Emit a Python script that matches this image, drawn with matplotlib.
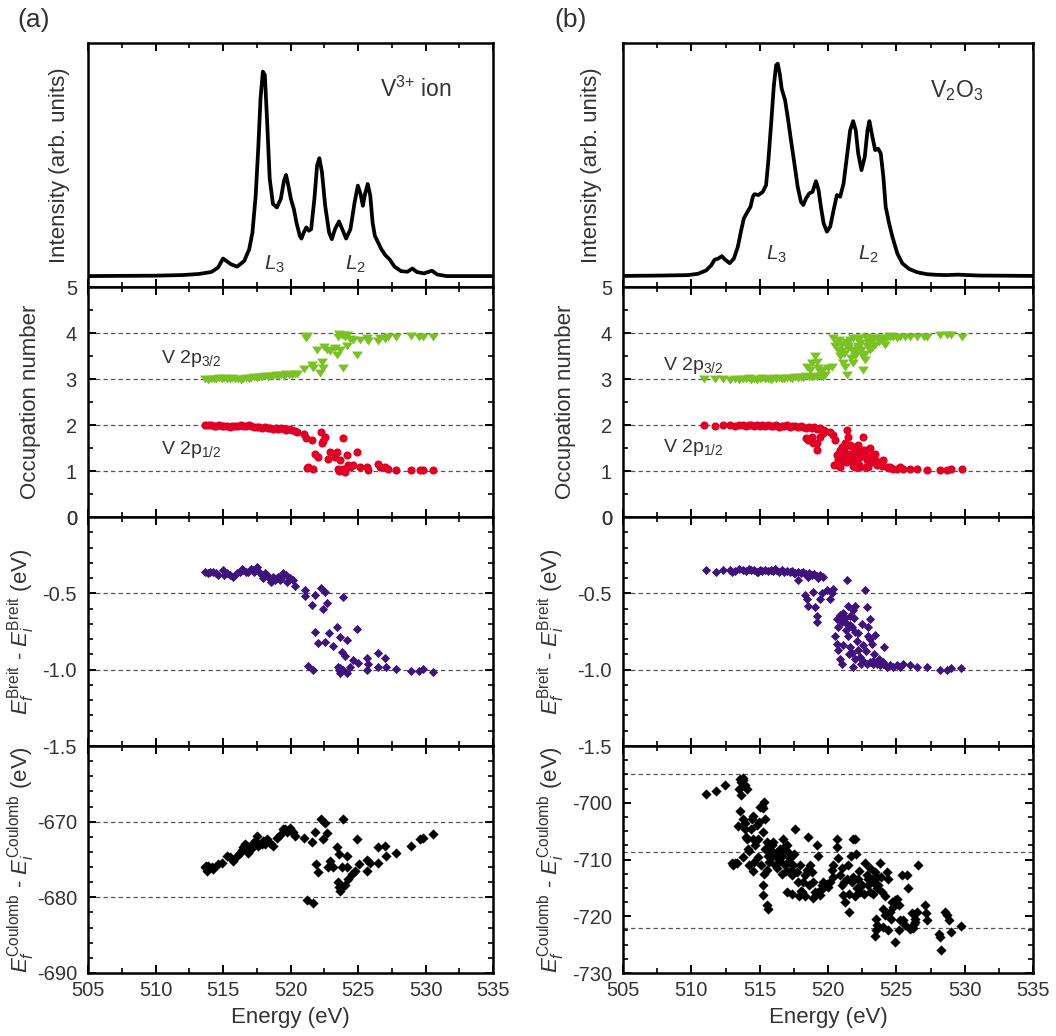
import matplotlib
matplotlib.use('Agg')
import matplotlib.pyplot as plt
from matplotlib.ticker import MultipleLocator, FixedLocator, NullLocator

plt.rcParams['font.family'] = ['Liberation Sans', 'DejaVu Sans']
plt.rcParams['mathtext.fontset'] = 'custom'
plt.rcParams['mathtext.rm'] = 'Liberation Sans'
plt.rcParams['mathtext.it'] = 'Liberation Sans:italic'
plt.rcParams['mathtext.bf'] = 'Liberation Sans:bold'

# ---------------- data: spectra ----------------
spec_a_E = [505.0, 510.0, 512.0, 513.19, 514.15, 514.64, 515.0, 515.6, 516.04, 516.57, 516.94,
            517.18, 517.42, 517.61, 517.78, 517.95, 518.1, 518.27, 518.46, 518.7, 518.99,
            519.28, 519.52, 519.67, 519.84, 520.03, 520.25, 520.44, 520.69, 520.81, 520.98,
            521.17, 521.36, 521.53, 521.77, 521.97, 522.14, 522.33, 522.57, 522.86, 523.06,
            523.3, 523.59, 523.83, 524.12, 524.44, 524.75, 524.99, 525.19, 525.36, 525.52,
            525.72, 525.91, 526.08, 526.25, 526.49, 526.73, 527.03, 527.34, 527.7, 528.19,
            528.67, 529.03, 529.35, 529.88, 530.49, 530.85, 531.57, 535.0]
spec_a_I = [0.0, 0.002, 0.005, 0.01, 0.02, 0.042, 0.085, 0.057, 0.046, 0.073, 0.13,
            0.211, 0.39, 0.618, 0.862, 0.992, 0.976, 0.748, 0.472, 0.35, 0.333,
            0.374, 0.463, 0.491, 0.439, 0.374, 0.325, 0.26, 0.195, 0.182, 0.211,
            0.236, 0.22, 0.228, 0.374, 0.537, 0.572, 0.504, 0.341, 0.211, 0.179,
            0.228, 0.265, 0.228, 0.182, 0.228, 0.358, 0.439, 0.398, 0.341, 0.398,
            0.447, 0.39, 0.26, 0.195, 0.163, 0.13, 0.101, 0.081, 0.046, 0.024,
            0.021, 0.037, 0.02, 0.013, 0.026, 0.008, 0.0, 0.0]

spec_b_E = [505.0, 508.0, 509.76, 510.49, 511.09, 511.46, 511.7, 511.95, 512.24, 512.48, 512.8,
            513.11, 513.4, 513.65, 513.84, 514.08, 514.33, 514.5, 514.62, 514.91, 515.23,
            515.47, 515.64, 515.84, 516.03, 516.2, 516.32, 516.47, 516.61, 516.86, 517.05,
            517.29, 517.54, 517.78, 518.02, 518.19, 518.39, 518.63, 518.87, 519.12, 519.31,
            519.48, 519.68, 519.92, 520.16, 520.41, 520.65, 520.89, 521.14, 521.38, 521.62,
            521.84, 522.03, 522.21, 522.45, 522.69, 522.89, 523.03, 523.25, 523.45, 523.66,
            523.86, 524.05, 524.22, 524.47, 524.71, 525.07, 525.44, 525.93, 526.53, 527.26,
            527.99, 528.72, 529.5, 531.0, 535.0]
spec_b_I = [0.0, 0.002, 0.004, 0.01, 0.026, 0.05, 0.076, 0.081, 0.093, 0.076, 0.06,
            0.081, 0.136, 0.215, 0.27, 0.298, 0.325, 0.372, 0.384, 0.38, 0.395,
            0.427, 0.544, 0.716, 0.888, 0.989, 0.997, 0.95, 0.88, 0.825, 0.747,
            0.638, 0.528, 0.419, 0.348, 0.333, 0.364, 0.388, 0.395, 0.445, 0.403,
            0.325, 0.247, 0.208, 0.231, 0.309, 0.38, 0.372, 0.434, 0.559, 0.684,
            0.727, 0.684, 0.575, 0.497, 0.559, 0.684, 0.727, 0.653, 0.591, 0.598,
            0.575, 0.466, 0.325, 0.247, 0.184, 0.106, 0.059, 0.033, 0.017, 0.008,
            0.005, 0.004, 0.006, 0.002, 0.0]

# ---------------- data: panel (a) scatter ----------------
occ32_a_E = [513.7, 513.9, 514.1, 514.3, 514.5, 514.7, 514.9, 515.1, 515.3, 515.5, 515.7, 515.9,
             516.1, 516.3, 516.5, 516.7, 516.9, 517.1, 517.3, 517.5, 517.7, 517.9, 518.1, 518.3,
             518.5, 518.7, 518.9, 519.1, 519.3, 519.5, 519.7, 519.9, 520.1, 520.3, 520.5,
             521.0, 521.14, 521.56, 521.69, 521.93, 522.18, 522.3, 522.43, 522.67, 522.92, 523.29,
             523.46, 523.66, 523.86, 523.54, 523.78, 524.03, 524.15, 524.15, 524.4, 524.64, 524.94,
             525.14, 525.63, 525.75, 526.49, 526.62, 526.99, 527.23, 527.85, 528.96, 529.53,
             529.82, 530.56, 523.6, 523.9, 521.2, 522.5]
occ32_a_N = [3.0, 2.98, 3.01, 3.0, 2.99, 3.02, 3.01, 3.03, 3.0, 2.99, 3.02, 3.01,
             3.0, 2.98, 3.01, 3.03, 3.0, 3.02, 3.04, 3.03, 3.05, 3.04, 3.06, 3.05,
             3.07, 3.06, 3.08, 3.07, 3.09, 3.06, 3.1, 3.08, 3.09, 3.11, 3.1,
             3.21, 3.89, 3.31, 3.23, 3.63, 3.12, 3.36, 3.23, 3.63, 3.6, 3.67,
             3.52, 3.63, 3.25, 3.92, 3.96, 3.92, 3.71, 3.96, 3.87, 3.85, 3.52,
             3.85, 3.89, 3.82, 3.82, 3.89, 3.87, 3.91, 3.92, 3.94, 3.92,
             3.92, 3.92, 3.97, 3.95, 3.93, 3.70]

occ12_a_E = [513.7, 513.9, 514.1, 514.3, 514.5, 514.7, 514.9, 515.1, 515.3, 515.5, 515.7, 515.9,
             516.1, 516.3, 516.5, 516.7, 516.9, 517.1, 517.3, 517.5, 517.7, 517.9, 518.1, 518.3,
             518.5, 518.7, 518.9, 519.1, 519.3, 519.5, 519.7, 519.9, 520.1, 520.3, 520.5,
             521.0, 521.14, 521.32, 521.64, 521.56, 521.81, 522.06, 522.23, 522.3, 522.55, 522.8,
             522.92, 523.29, 523.41, 523.54, 523.66, 523.78, 523.91, 524.03, 524.15, 524.28, 524.4,
             524.64, 524.94, 525.14, 525.63, 525.75, 526.49, 526.62, 526.99, 527.23, 527.85,
             528.96, 529.57, 529.82, 530.56, 523.6, 523.9, 521.2, 522.4]
occ12_a_N = [2.0, 1.99, 2.0, 1.98, 1.97, 1.99, 1.98, 1.97, 1.98, 1.96, 1.97, 1.98,
             1.97, 1.99, 1.98, 1.98, 1.99, 1.97, 1.96, 1.95, 1.96, 1.94, 1.95, 1.93,
             1.94, 1.92, 1.93, 1.91, 1.94, 1.92, 1.9, 1.91, 1.89, 1.87, 1.85,
             1.8, 1.71, 1.08, 1.05, 1.67, 1.38, 1.31, 1.85, 1.6, 1.74, 1.27,
             1.42, 1.31, 1.42, 1.05, 1.24, 1.02, 1.71, 0.98, 1.34, 1.13, 1.09,
             1.13, 1.42, 1.09, 1.09, 1.03, 1.16, 1.09, 1.09, 1.05, 1.03,
             1.02, 1.02, 1.02, 1.02, 1.0, 1.04, 1.06, 1.66]

breit_a_E = [513.68, 513.92, 514.05, 514.29, 514.45, 514.66, 514.98, 515.08, 515.3, 515.52, 515.77,
             516.0, 516.26, 516.51, 516.7, 516.88, 517.05, 517.25, 517.5, 517.69, 517.87, 517.99,
             518.1, 518.24, 518.4, 518.53, 518.73, 518.85, 518.98, 519.22, 519.35, 519.47, 519.67,
             519.76, 519.96, 520.16, 520.33,
             521.07, 521.07, 521.61, 521.81, 522.23, 522.38, 522.55, 522.67, 521.81, 522.06,
             522.55, 522.87, 523.12, 523.41, 523.66, 523.86, 524.15, 523.78, 524.03, 521.32,
             521.64, 523.54, 523.66, 523.91, 524.15, 524.4, 524.6, 524.94, 525.01, 525.63,
             525.75, 525.7, 526.49, 526.49, 526.99, 527.11, 527.85, 528.96, 529.53, 529.82, 530.56,
             516.4, 517.3, 518.6, 519.1, 523.6, 523.7]
breit_a_V = [-0.357, -0.368, -0.36, -0.357, -0.37, -0.379, -0.346, -0.379, -0.365, -0.379, -0.396,
             -0.37, -0.357, -0.346, -0.36, -0.357, -0.34, -0.346, -0.328, -0.357, -0.379, -0.401,
             -0.37, -0.379, -0.40, -0.423, -0.39, -0.41, -0.401, -0.412, -0.39, -0.368, -0.379,
             -0.423, -0.401, -0.412, -0.455,
             -0.477, -0.517, -0.576, -0.51, -0.462, -0.604, -0.488, -0.561, -0.751, -0.828,
             -0.817, -0.762, -0.845, -0.723, -0.784, -0.525, -0.806, -0.882, -0.911, -0.977,
             -1.003, -0.981, -1.02, -1.003, -1.025, -0.981, -0.937, -0.736, -0.959, -1.003,
             -0.966, -0.926, -0.893, -0.981, -0.926, -0.981, -0.998, -1.009, -1.009, -0.998, -1.014,
             -0.34, -0.36, -0.41, -0.39, -1.0, -0.99]

coul_a_E = [513.68, 513.8, 513.92, 514.17, 514.29, 514.66, 514.91, 515.28, 515.52, 515.77, 516.0,
            516.26, 516.51, 516.76, 516.88, 517.05, 517.25, 517.5, 517.62, 517.87, 517.99, 518.24,
            518.48, 518.68, 518.98, 519.22, 519.47, 519.72, 519.96, 520.16, 520.33,
            521.0, 521.19, 521.64, 521.56, 521.81, 521.88, 522.06, 522.23, 522.38, 522.55, 522.67,
            522.8, 522.92, 523.17, 523.41, 523.61, 523.78, 523.91, 523.54, 523.66, 523.78, 524.03,
            524.15, 524.15, 524.28, 524.52, 524.77, 524.94, 525.09, 525.63, 525.63, 525.88, 526.49,
            526.49, 526.99, 527.11, 527.85, 528.96, 529.57, 529.82, 530.56,
            513.75, 516.4, 516.6, 517.4, 518.1, 519.6, 520.0, 523.6]
coul_a_V = [-676.0, -676.5, -675.8, -676.0, -676.3, -675.6, -675.4, -674.5, -674.7, -675.2, -674.6,
            -674.1, -673.4, -673.2, -674.1, -673.6, -672.8, -671.9, -673.2, -673.0, -672.6, -672.3,
            -672.8, -673.2, -672.1, -671.7, -671.0, -671.3, -670.8, -671.3, -671.9,
            -672.1, -680.3, -680.7, -672.7, -671.3, -675.6, -676.6, -669.7, -672.3, -670.2, -671.5,
            -676.0, -675.2, -676.0, -673.4, -674.3, -676.0, -669.7, -678.0, -679.1, -678.7, -678.4,
            -674.5, -676.0, -677.6, -676.9, -676.5, -672.3, -675.6, -675.0, -676.5, -675.4, -673.4,
            -675.4, -673.2, -674.5, -674.1, -673.2, -672.3, -672.1, -671.6,
            -675.9, -673.8, -673.0, -672.5, -672.9, -671.0, -671.2, -678.6]

# ---------------- data: panel (b) scatter ----------------
occ32_b_E = [510.91, 511.72, 512.33, 512.82, 513.2, 513.5, 513.8, 514.0, 514.2, 514.4, 514.6, 514.8,
             515.0, 515.2, 515.4, 515.6, 515.8, 516.0, 516.2, 516.4, 516.6, 516.8, 517.0, 517.2,
             517.4, 517.6, 517.8, 518.0, 518.2, 518.4, 518.6, 518.8, 519.0, 519.2, 519.4, 519.6, 519.8,
             518.44, 518.68, 518.8, 519.05, 519.17, 519.29, 519.41, 519.66, 520.03, 520.27, 520.39,
             520.51, 520.64, 520.88, 521.0, 521.13, 521.25, 521.37, 521.49, 521.61, 521.74, 521.86,
             521.98, 522.1, 522.22, 522.35, 522.47, 522.59, 522.71, 522.84, 522.96, 523.08, 523.2,
             523.32, 523.57, 523.81, 524.06, 524.18, 524.3, 524.55, 524.79, 525.03, 525.28, 525.64,
             526.01, 526.5, 526.99, 527.23, 528.21, 528.7, 528.99, 529.8,
             520.7, 520.95, 521.2, 521.45, 521.7, 521.95, 522.2, 522.45, 522.7, 522.95, 523.2,
             523.45, 523.7, 520.8, 521.3, 521.8, 522.3, 522.8, 523.95, 524.45]
occ32_b_N = [3.0, 2.99, 3.0, 2.98, 3.01, 2.97, 3.0, 2.99, 3.02, 2.98, 3.01, 2.97,
             3.0, 3.02, 2.99, 3.01, 2.98, 3.02, 3.0, 3.03, 3.01, 2.99, 3.02, 3.03,
             3.01, 3.04, 3.02, 3.05, 3.03, 3.06, 3.04, 3.05, 3.07, 3.04, 3.06, 3.05, 3.08,
             3.27, 3.2, 3.34, 3.49, 3.38, 3.23, 3.16, 3.2, 3.23, 3.27, 3.89,
             3.71, 3.78, 3.49, 3.6, 3.34, 3.27, 3.09, 3.71, 3.85, 3.63, 3.34,
             3.49, 3.89, 3.67, 3.78, 3.52, 3.2, 3.42, 3.71, 3.85, 3.63, 3.82,
             3.89, 3.89, 3.85, 3.82, 3.74, 3.89, 3.91, 3.92, 3.89, 3.92, 3.91,
             3.92, 3.92, 3.92, 3.91, 3.96, 3.96, 3.95, 3.92,
             3.62, 3.75, 3.55, 3.68, 3.45, 3.58, 3.72, 3.62, 3.55, 3.78, 3.68,
             3.75, 3.8, 3.85, 3.8, 3.9, 3.87, 3.92, 3.9, 3.93]

occ12_b_E = [510.91, 511.72, 512.33, 512.82, 513.2, 513.5, 513.8, 514.0, 514.2, 514.4, 514.6, 514.8,
             515.0, 515.2, 515.4, 515.6, 515.8, 516.0, 516.2, 516.4, 516.6, 516.8, 517.0, 517.2,
             517.4, 517.6, 517.8, 518.0, 518.2, 518.4, 518.6, 518.8, 519.0, 519.2, 519.4, 519.6, 519.8,
             518.39, 518.56, 518.8, 518.93, 519.17, 519.22, 519.41, 519.66, 520.15, 520.39, 520.51,
             520.44, 520.64, 520.76, 520.88, 521.0, 521.13, 521.25, 521.37, 521.49, 521.61, 521.74,
             521.86, 521.98, 522.1, 522.22, 522.35, 522.47, 522.59, 522.71, 522.84, 522.96, 523.08,
             523.2, 523.32, 523.45, 523.57, 523.81, 524.06, 524.3, 524.55, 524.79, 525.03, 525.28,
             525.52, 526.01, 526.5, 527.23, 528.21, 528.7, 528.99, 529.8,
             520.88, 521.25, 521.49, 521.74, 521.98, 522.22, 522.35,
             520.7, 520.95, 521.2, 521.45, 521.7, 521.95, 522.2, 522.45, 522.7, 522.95, 523.2,
             523.45, 523.7, 520.8, 521.3, 521.8, 522.3, 522.8, 523.95, 524.45]
occ12_b_N = [2.0, 1.98, 1.99, 2.0, 1.98, 1.99, 2.0, 1.97, 1.99, 2.0, 1.98, 1.99,
             1.97, 2.0, 1.98, 1.99, 1.97, 1.98, 1.99, 1.96, 1.98, 1.97, 1.99, 1.96,
             1.98, 1.97, 1.95, 1.97, 1.96, 1.94, 1.96, 1.93, 1.95, 1.92, 1.94, 1.9, 1.88,
             1.71, 1.67, 1.74, 1.6, 1.45, 1.6, 1.74, 1.82, 1.85, 1.78, 1.67,
             1.13, 1.34, 1.24, 1.09, 1.53, 1.42, 1.6, 1.89, 1.38, 1.56, 1.2,
             1.53, 1.31, 1.42, 1.16, 1.31, 1.45, 1.74, 1.38, 1.24, 1.09, 1.49,
             1.34, 1.2, 1.38, 1.13, 1.16, 1.24, 1.09, 1.08, 1.05, 1.05, 1.09,
             1.05, 1.05, 1.05, 1.03, 1.03, 1.03, 1.05, 1.05,
             1.45, 1.31, 1.74, 1.38, 1.09, 1.56, 1.09,
             1.38, 1.25, 1.45, 1.32, 1.55, 1.42, 1.28, 1.38, 1.45, 1.22, 1.32,
             1.25, 1.2, 1.15, 1.2, 1.1, 1.13, 1.08, 1.1, 1.07]

breit_b_E = [511.06, 511.79, 512.33, 512.82, 513.2, 513.5, 513.8, 514.0, 514.2, 514.4, 514.6, 514.8,
             515.0, 515.2, 515.4, 515.6, 515.8, 516.0, 516.2, 516.4, 516.6, 516.8, 517.0, 517.2,
             517.4, 517.6, 517.8, 518.0, 518.2, 518.4, 518.6, 518.8, 519.0, 519.2, 519.4, 519.6,
             517.83, 518.32, 518.44, 518.56, 518.88, 519.05, 519.17, 519.22, 519.41, 519.54, 519.9,
             520.15, 520.27, 520.39, 521.37, 520.51, 520.64, 520.76, 520.88, 521.0, 520.64, 520.88,
             521.13, 521.25, 521.37, 521.49, 521.61, 521.74, 521.86, 521.98, 521.49, 521.61, 521.74,
             521.86, 521.98, 522.1, 522.22, 522.35, 522.59, 522.71, 522.84, 522.96, 523.08, 523.2,
             523.45, 524.11,
             522.59, 522.84, 523.08, 523.32, 523.57, 523.81, 524.06, 524.3, 524.55, 524.79, 525.03,
             525.28, 525.52, 526.01, 526.5, 527.23, 528.21, 528.7, 528.99, 529.75,
             513.0, 514.9, 516.1, 517.5, 518.5, 519.3,
             520.7, 521.0, 521.3, 521.6, 521.9, 522.2, 522.5, 522.8, 523.1, 523.4, 523.7, 524.0,
             521.1, 521.5, 522.0, 522.4, 522.9, 523.3]
breit_b_V = [-0.346, -0.357, -0.35, -0.345, -0.352, -0.34, -0.348, -0.355, -0.342, -0.35, -0.345, -0.358,
             -0.347, -0.352, -0.344, -0.356, -0.349, -0.353, -0.345, -0.358, -0.35, -0.362, -0.355, -0.36,
             -0.352, -0.365, -0.358, -0.37, -0.362, -0.375, -0.368, -0.38, -0.372, -0.385, -0.378, -0.39,
             -0.41, -0.51, -0.54, -0.58, -0.49, -0.59, -0.65, -0.69, -0.54, -0.5, -0.48,
             -0.54, -0.5, -0.47, -0.41, -0.78, -0.83, -0.87, -0.93, -0.96, -0.67, -0.64,
             -0.63, -0.66, -0.7, -0.58, -0.65, -0.72, -0.61, -0.58, -0.78, -0.85, -0.89,
             -0.98, -0.93, -0.81, -0.87, -0.92, -0.84, -0.48, -0.59, -0.78, -0.67, -0.83,
             -0.77, -0.85,
             -0.94, -0.96, -0.95, -0.96, -0.96, -0.97, -0.96, -0.98, -0.97, -0.98, -0.97,
             -0.98, -0.96, -0.97, -0.98, -0.98, -1.0, -1.0, -0.99, -0.99,
             -0.36, -0.36, -0.34, -0.37, -0.39, -0.4,
             -0.72, -0.69, -0.74, -0.71, -0.66, -0.76, -0.7, -0.88, -0.8, -0.9, -0.93, -0.95,
             -0.84, -0.9, -0.75, -0.96, -0.72, -0.94]

coul_b_E = [511.06, 511.79, 512.45, 512.94, 513.06, 513.18, 513.31, 513.43, 513.5, 513.55, 513.6,
            513.75, 513.8, 513.92, 514.04, 513.67, 513.55, 513.8, 513.92, 514.04, 514.16, 514.24,
            513.8, 514.33, 514.41, 514.48, 514.53, 514.65, 514.77, 514.9, 514.97, 515.02, 515.14,
            515.26, 515.31, 515.38, 515.26, 515.21, 515.26, 515.55, 515.58, 515.38, 515.51, 515.63,
            515.75, 515.87, 516.0, 516.12, 516.24, 516.36, 516.48, 516.61, 516.73, 516.85, 516.97,
            517.09, 517.22, 517.34, 517.46, 517.58, 517.7, 517.83, 517.95, 518.07, 518.19, 518.32,
            518.44, 518.56, 518.68, 518.8, 518.93, 519.05, 519.17, 519.29, 519.41, 519.54, 519.66,
            519.9, 520.15, 520.27, 520.39, 520.64, 520.69, 520.76, 520.88, 521.0, 521.13, 521.25,
            521.37, 521.49, 521.56, 521.66, 521.74, 521.86, 521.98, 522.05, 522.1, 522.22, 522.35,
            522.47, 522.71, 522.84, 522.96, 523.08, 523.2, 523.32, 523.45, 523.57, 523.69, 523.81,
            523.94, 524.06, 524.18, 524.3, 524.42, 524.55, 524.67, 524.79, 524.91, 525.03, 523.52,
            523.57, 523.45, 524.01, 524.42, 524.91, 525.16, 525.28, 525.4, 525.77, 525.84, 525.52,
            526.01, 526.13, 526.26, 526.38, 526.5, 526.55, 527.11, 527.18, 527.23, 528.09, 528.16,
            528.26, 528.58, 528.7, 528.82, 528.99, 529.72,
            515.7, 515.9, 516.1, 516.3, 516.5, 516.7, 516.9, 517.1, 517.3, 517.5, 515.5, 515.3,
            515.1, 514.9, 514.6, 514.2, 514.0, 513.9, 514.5, 518.0, 518.3, 518.6, 518.9, 519.3,
            519.6, 520.0, 520.4, 521.0, 521.2, 521.5, 521.8, 522.0, 522.3, 522.6, 522.9, 523.1,
            523.3, 523.6, 523.9, 524.2, 524.6, 525.2, 525.6, 526.2, 526.4, 523.5, 517.9, 517.4,
            517.0, 516.6]
coul_b_V = [-698.4, -698.0, -696.9, -710.7, -710.9, -710.6, -710.7, -704.1, -697.6, -695.8, -696.3,
            -696.0, -695.6, -696.9, -697.5, -698.7, -701.5, -702.8, -704.6, -706.3, -708.1, -711.0,
            -709.6, -704.6, -702.8, -702.3, -706.3, -707.5, -704.0, -706.3, -703.4, -700.7, -700.5,
            -701.0, -699.9, -702.8, -705.1, -714.5, -716.3, -718.1, -718.8, -708.1, -706.9, -709.3,
            -708.1, -709.6, -706.9, -711.0, -708.7, -709.8, -708.1, -709.3, -706.3, -711.0, -707.5,
            -708.7, -709.8, -712.8, -711.0, -704.6, -712.2, -714.0, -711.0, -715.7, -714.0, -712.8,
            -711.9, -706.0, -711.0, -712.2, -714.0, -715.7, -707.5, -709.3, -716.3, -714.5, -714.0,
            -714.3, -714.0, -711.9, -711.0, -706.3, -707.8, -709.8, -712.8, -714.5, -716.3, -717.5,
            -713.4, -711.0, -719.2, -709.3, -714.0, -706.3, -706.3, -709.0, -715.1, -713.4, -715.7,
            -714.5, -710.7, -712.8, -714.5, -715.7, -713.4, -714.0, -712.2, -713.1, -714.5, -710.7,
            -715.7, -718.7, -719.8, -712.2, -713.4, -719.2, -717.5, -718.4, -717.2, -716.9, -720.4,
            -721.6, -723.4, -721.9, -722.5, -724.5, -722.5, -720.7, -712.8, -712.8, -715.1, -720.7,
            -722.2, -719.5, -721.3, -720.4, -719.2, -711.0, -718.1, -719.5, -720.7, -723.1, -723.6,
            -726.0, -719.2, -719.8, -720.7, -722.8, -721.7,
            -710.5, -707.5, -709.0, -711.5, -710.2, -708.0, -712.0, -710.5, -711.8, -709.0, -711.8, -712.6,
            -711.0, -709.5, -710.5, -708.5, -706.0, -703.5, -712.0, -715.5, -716.5, -714.5, -716.8, -715.8,
            -715.0, -714.8, -713.0, -711.5, -714.0, -716.0, -713.0, -716.5, -712.0, -716.0, -713.5, -711.5,
            -716.0, -715.0, -713.0, -716.5, -720.5, -718.0, -721.5, -722.0, -721.0, -722.5, -716.5, -716.0,
            -715.8, -712.5]

occ_ref = [1, 2, 3, 4]
breit_ref = [-0.5, -1.0]
coul_a_ref = [-670, -680]
coul_b_ref = [-695.0, -708.6, -722.1]

GREEN = '#7ac224'
RED = '#e10025'
PURPLE = '#3e137b'
TXT = '#333333'

# flattened downward triangle marker (wider than tall)
TRI = [(-1.0, 0.72), (1.0, 0.72), (0.0, -0.72), (-1.0, 0.72)]

W, H = 1056, 1036
fig = plt.figure(figsize=(W / 100, H / 100), dpi=100)

rows_px = [(43, 287), (287, 517), (517, 746), (746, 973)]
cols_px = [(88, 493), (623, 1033)]


def make_ax(col, row):
    x0, x1 = cols_px[col]
    y0, y1 = rows_px[row]
    return fig.add_axes([x0 / W, 1 - y1 / H, (x1 - x0) / W, (y1 - y0) / H])


def style(ax, bottom_labels=False):
    for s in ax.spines.values():
        s.set_linewidth(1.8)
    ax.set_xlim(505, 535)
    ax.xaxis.set_major_locator(MultipleLocator(5))
    ax.xaxis.set_minor_locator(MultipleLocator(2.5))
    ax.tick_params(axis='both', which='both', direction='in', top=True, bottom=True,
                   left=True, right=True, colors='black', labelcolor=TXT)
    ax.tick_params(axis='both', which='major', length=6, width=1.4, labelsize=14.5, pad=8)
    ax.tick_params(axis='both', which='minor', length=3.5, width=1.2)
    ax.tick_params(axis='x', labelbottom=bottom_labels, pad=6)


def hlines(ax, ys):
    for y in ys:
        ax.axhline(y, color='#555555', lw=0.9, ls=(0, (3.5, 2.5)), zorder=1)


cols = [
    dict(sE=spec_a_E, sI=spec_a_I, ylim_s=(-0.053, 1.131), name='V$^{3{+}}$ ion', name_xy=(526.6, 0.87),
         L3=(518.0, 0.029), L2=(524.05, 0.029), lab32=(510.4, 3.34), lab12=(510.4, 1.38),
         o32=(occ32_a_E, occ32_a_N), o12=(occ12_a_E, occ12_a_N), br=(breit_a_E, breit_a_V),
         co=(coul_a_E, coul_a_V), co_lim=(-690, -660), co_ticks=[-690, -680, -670, -660],
         co_labels=['-690', '-680', '-670', ''], co_minor=2, co_ref=coul_a_ref, panel='(a)',
         panel_xy=(34, 20), ylab_x=[60, 31, 21, 21]),
    dict(sE=spec_b_E, sI=spec_b_I, ylim_s=(-0.052, 1.094), name='V$_2$O$_3$', name_xy=(527.5, 0.84),
         L3=(515.5, 0.075), L2=(522.2, 0.075), lab32=(507.9, 3.2), lab12=(507.9, 1.42),
         o32=(occ32_b_E, occ32_b_N), o12=(occ12_b_E, occ12_b_N), br=(breit_b_E, breit_b_V),
         co=(coul_b_E, coul_b_V), co_lim=(-730, -690), co_ticks=[-730, -720, -710, -700, -690],
         co_labels=['-730', '-720', '-710', '-700', ''], co_minor=2.5, co_ref=coul_b_ref, panel='(b)',
         panel_xy=(571, 20), ylab_x=[592, 566, 551, 551]),
]

ylabels = ['Intensity (arb. units)', 'Occupation number',
           r'$E_f^{\mathrm{Breit}}$ - $E_i^{\mathrm{Breit}}$ (eV)',
           r'$E_f^{\mathrm{Coulomb}}$ - $E_i^{\mathrm{Coulomb}}$ (eV)']

for ci, c in enumerate(cols):
    # spectrum
    ax = make_ax(ci, 0)
    style(ax)
    ax.plot(c['sE'], c['sI'], color='black', lw=2.7, solid_joinstyle='round', zorder=3)
    ax.set_ylim(*c['ylim_s'])
    ax.yaxis.set_major_locator(NullLocator())
    ax.yaxis.set_minor_locator(NullLocator())
    ax.text(c['name_xy'][0], c['name_xy'][1], c['name'], fontsize=16.5, color=TXT,
            ha='left', va='baseline')
    ax.text(c['L3'][0], c['L3'][1], '$L_3$', fontsize=15, color=TXT, ha='left', va='baseline')
    ax.text(c['L2'][0], c['L2'][1], '$L_2$', fontsize=15, color=TXT, ha='left', va='baseline')

    # occupation
    ax = make_ax(ci, 1)
    style(ax)
    hlines(ax, occ_ref)
    ax.scatter(c['o32'][0], c['o32'][1], marker=TRI, s=62, color=GREEN, linewidths=0, zorder=3)
    ax.scatter(c['o12'][0], c['o12'][1], marker='o', s=34, color=RED, linewidths=0, zorder=3)
    ax.set_ylim(0, 5)
    ax.yaxis.set_major_locator(FixedLocator([0, 1, 2, 3, 4, 5]))
    ax.set_yticklabels(['0', '1', '2', '3', '4', '5'])
    ax.yaxis.set_minor_locator(MultipleLocator(0.5))
    ax.text(c['lab32'][0], c['lab32'][1], 'V 2p$_{3/2}$', fontsize=14, color=TXT, ha='left', va='baseline')
    ax.text(c['lab12'][0], c['lab12'][1], 'V 2p$_{1/2}$', fontsize=14, color=TXT, ha='left', va='baseline')

    # Breit
    ax = make_ax(ci, 2)
    style(ax)
    hlines(ax, breit_ref)
    ax.scatter(c['br'][0], c['br'][1], marker='D', s=22, color=PURPLE, linewidths=0, zorder=3)
    ax.set_ylim(-1.5, 0)
    ax.yaxis.set_major_locator(FixedLocator([-1.5, -1.0, -0.5, 0]))
    ax.set_yticklabels(['-1.5', '-1.0', '-0.5', '0'])
    ax.yaxis.set_minor_locator(MultipleLocator(0.1))

    # Coulomb
    ax = make_ax(ci, 3)
    style(ax, bottom_labels=True)
    hlines(ax, c['co_ref'])
    ax.scatter(c['co'][0], c['co'][1], marker='D', s=27, color='black', linewidths=0, zorder=3)
    ax.set_ylim(*c['co_lim'])
    ax.yaxis.set_major_locator(FixedLocator(c['co_ticks']))
    ax.set_yticklabels(c['co_labels'])
    ax.yaxis.set_minor_locator(MultipleLocator(c['co_minor']))
    ax.set_xticks([505, 510, 515, 520, 525, 530, 535])
    ax.set_xticklabels(['505', '510', '515', '520', '525', '530', '535'])

    for ri, lab in enumerate(ylabels):
        y0, y1 = rows_px[ri]
        fig.text(c['ylab_x'][ri] / W, 1 - (y0 + y1) / 2 / H, lab, rotation=90, fontsize=16,
                 color=TXT, ha='center', va='center')
    x0, x1 = cols_px[ci]
    fig.text((x0 + x1) / 2 / W, 1 - 1017 / H, 'Energy (eV)', fontsize=16, color=TXT,
             ha='center', va='center')
    fig.text(c['panel_xy'][0] / W, 1 - c['panel_xy'][1] / H, c['panel'], fontsize=19,
             color=TXT, ha='center', va='center')

fig.savefig('out.png', dpi=100)
